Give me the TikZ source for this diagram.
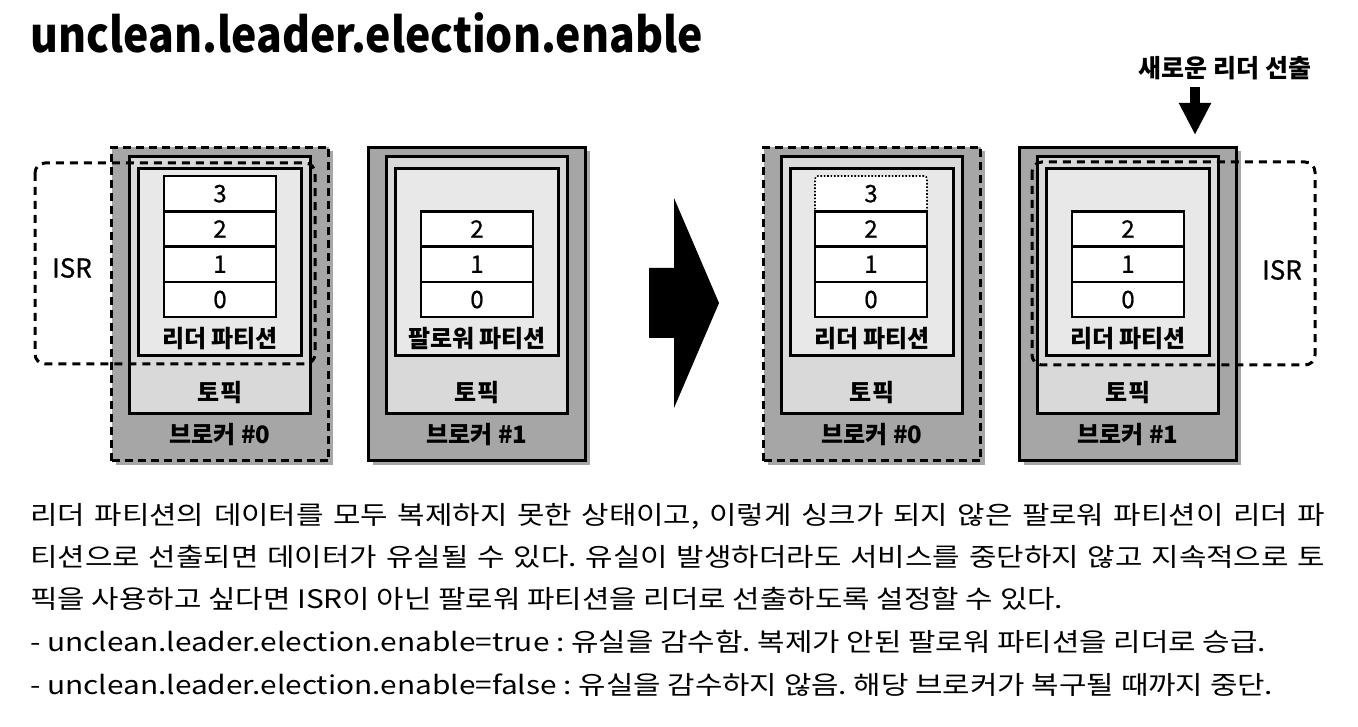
\documentclass[tikz,border=0pt]{standalone}
\usepackage{fontspec}
\setmainfont{Noto Sans CJK KR}
\newfontfamily\widefont{Noto Sans CJK KR}[FakeStretch=1.17]
\newfontfamily\titlefont{Noto Sans CJK KR}[FakeStretch=0.89]
\newfontfamily\medfont{Noto Sans CJK KR}[FakeBold=0.8]
\usetikzlibrary{shadows,arrows.meta}
\newcommand\fs[1]{\fontsize{#1}{#1}\selectfont}
\definecolor{outergray}{RGB}{166,166,166}
\definecolor{topicgray}{RGB}{217,217,217}
\definecolor{partgray}{RGB}{232,232,232}
\tikzset{
  brokerout/.style={draw=black, line width=3pt, fill=outergray, minimum width=217pt, minimum height=313pt, inner sep=0pt,
    drop shadow={shadow xshift=4pt, shadow yshift=-4pt, opacity=0.35, fill=black}},
  dashbrk/.style={dash pattern=on 8pt off 5pt, line width=3.5pt},
  topicbox/.style={draw=black, line width=3pt, fill=topicgray, minimum width=181pt, minimum height=257pt, inner sep=0pt},
  partbox/.style={draw=black, line width=3pt, fill=partgray, minimum width=163pt, minimum height=187pt, inner sep=0pt},
  cell/.style={draw=black, line width=2.6pt, fill=white, minimum width=112pt, minimum height=35.3pt, inner sep=0pt, font=\medfont\fs{24}},
  celldot/.style={cell, draw=black, line width=1.6pt, dash pattern=on 1.6pt off 1.8pt, rounded corners=3pt},
  lbl/.style={inner sep=0pt, font=\fs{24}\bfseries},
  isrtxt/.style={inner sep=0pt, font=\medfont\fs{26}},
  isr/.style={draw=black, line width=3pt, dash pattern=on 8pt off 6pt, rounded corners=10pt},
  bodyline/.style={anchor=base west, inner sep=0pt, font=\widefont\fs{25.5}\frenchspacing},
}
\newcommand\broker[5]{%
  \node[brokerout,#3] (#1) at (#2,304) {};
  \node[topicbox] (#1t) at (#2,285) {};
  \node[partbox] (#1p) at (#2,262) {};
  \node[lbl] (#1pl) at (#2,339) {#5};
  \node[lbl] (#1tl) at (#2,393) {토픽};
  \node[lbl] (#1bl) at (#2,435) {브로커 \##4};
}
\begin{document}
\begin{tikzpicture}[x=1pt,y=-1pt]
\useasboundingbox[fill=white] (0,0) rectangle (1358,727);

% title
\node[anchor=base west, inner sep=0pt, font=\titlefont\fs{48}\bfseries] (title) at (30,53) {unclean.leader.election.enable};

% left broker #0 (leader)
\broker{lb0}{220}{dashbrk}{0}{리더 파티션}
\node[cell] (lb0c3) at (220,193.65) {3};
\node[cell] (lb0c2) at (220,228.95) {2};
\node[cell] (lb0c1) at (220,264.25) {1};
\node[cell] (lb0c0) at (220,299.55) {0};
\draw[isr] (35,163) rectangle (315,364);
\node[isrtxt] (lisr) at (72,268) {ISR};

% left broker #1 (follower)
\broker{lb1}{477}{}{1}{팔로워 파티션}
\node[cell] (lb1c2) at (477,228.95) {2};
\node[cell] (lb1c1) at (477,264.25) {1};
\node[cell] (lb1c0) at (477,299.55) {0};

% big arrow
\fill[black] (649,268) -- (674,268) -- (674,198) -- (719,303) -- (674,408) -- (674,338) -- (649,338) -- cycle;

% right broker #0
\broker{rb0}{872}{dashbrk}{0}{리더 파티션}
\node[celldot] (rb0c3) at (871,193.65) {3};
\node[cell] (rb0c2) at (871,228.95) {2};
\node[cell] (rb0c1) at (871,264.25) {1};
\node[cell] (rb0c0) at (871,299.55) {0};

% right broker #1 (new leader)
\broker{rb1}{1128}{}{1}{리더 파티션}
\node[cell] (rb1c2) at (1128,228.95) {2};
\node[cell] (rb1c1) at (1128,264.25) {1};
\node[cell] (rb1c0) at (1128,299.55) {0};
\draw[isr] (1032,162) rectangle (1315,365);
\node[isrtxt] (risr) at (1282,270) {ISR};

% new leader label and arrow
\node[inner sep=0pt, font=\fs{25}\bfseries] (newl) at (1225,68) {새로운 리더 선출};
\coordinate (arrS) at (1195,87);
\coordinate (arrE) at (1195,135);
\draw[line width=10pt, -{Triangle[width=30pt,length=32pt]}] (arrS) -- (arrE);

% body text
\node[bodyline] (t1) at (30,524) {\makebox[1295pt][s]{리더 파티션의 데이터를 모두 복제하지 못한 상태이고, 이렇게 싱크가 되지 않은 팔로워 파티션이 리더 파}};
\node[bodyline] (t2) at (30,566) {\makebox[1295pt][s]{티션으로 선출되면 데이터가 유실될 수 있다. 유실이 발생하더라도 서비스를 중단하지 않고 지속적으로 토}};
\node[bodyline] (t3) at (30,608) {픽을 사용하고 싶다면 ISR이 아닌 팔로워 파티션을 리더로 선출하도록 설정할 수 있다.};
\node[bodyline] (t4) at (30,651) {- unclean.leader.election.enable=true : 유실을 감수함. 복제가 안된 팔로워 파티션을 리더로 승급.};
\node[bodyline] (t5) at (30,694) {- unclean.leader.election.enable=false : 유실을 감수하지 않음. 해당 브로커가 복구될 때까지 중단.};
\end{tikzpicture}
\end{document}
